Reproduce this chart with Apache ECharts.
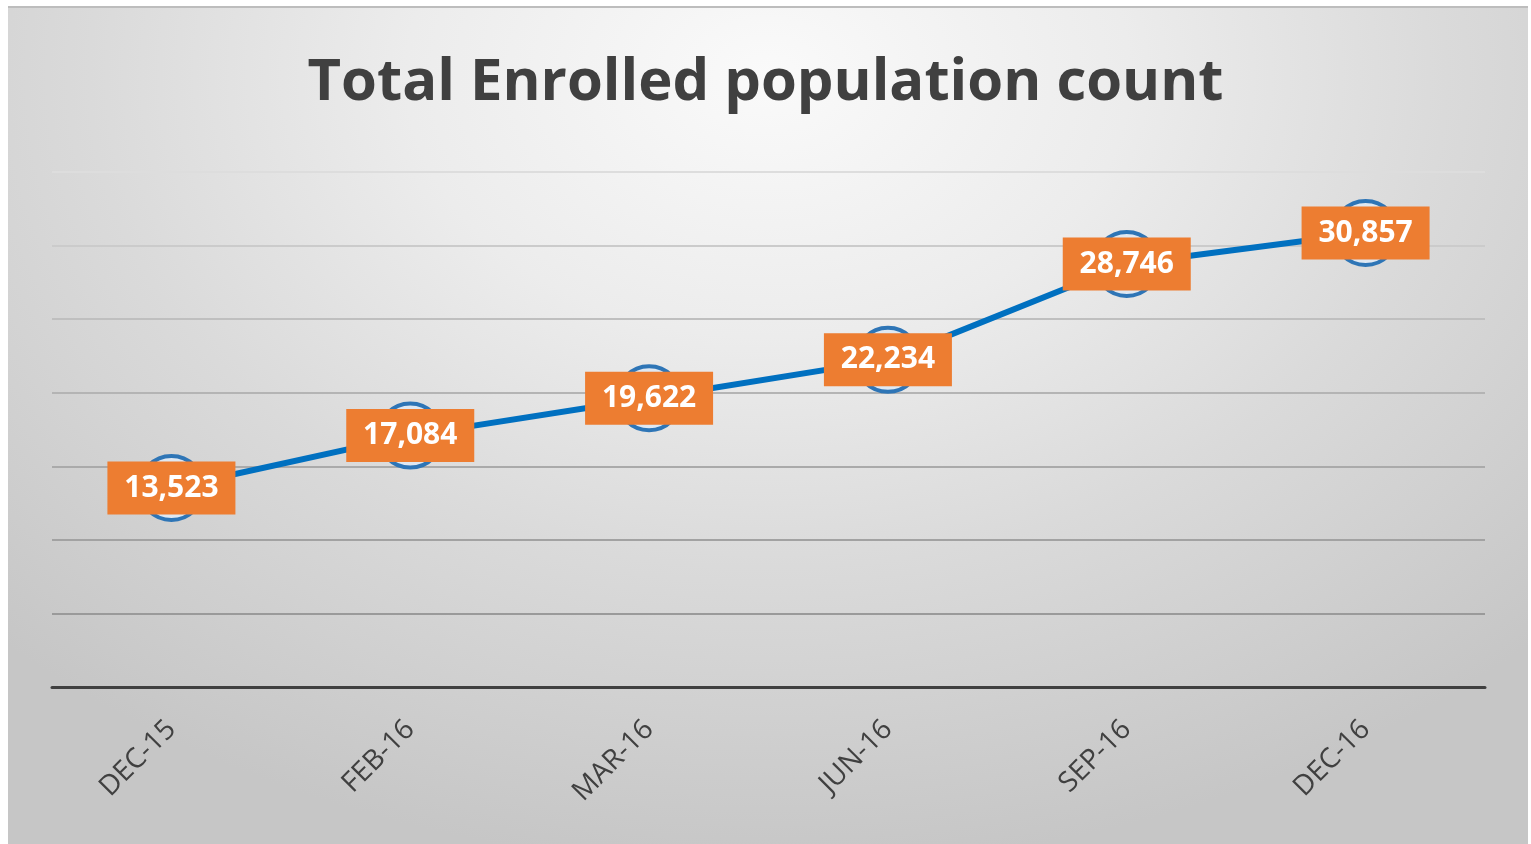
<!DOCTYPE html>
<html>
<head>
<meta charset="utf-8">
<script src="https://cdn.jsdelivr.net/npm/echarts@6/dist/echarts.min.js"></script>
<style>
  html, body { margin: 0; padding: 0; background: #ffffff; }
  #bg { position: absolute; left: 8px; top: 6px; width: 1520px; height: 838px;
        border-top: 2px solid #bdbdbd; box-sizing: border-box;
        background: radial-gradient(ellipse 72% 95% at 50% 8%, #fafafa 0%, #ececec 33%, #dadada 62%, #c6c6c6 100%); }
  #chart { position: absolute; left: 0; top: 0; width: 1531px; height: 844px; }
</style>
</head>
<body>
<div id="bg"></div>
<div id="chart"></div>
<script>
const categories = ['DEC-15', 'FEB-16', 'MAR-16', 'JUN-16', 'SEP-16', 'DEC-16'];
const enrolled = [13523, 17084, 19622, 22234, 28746, 30857];
const titleText = 'Total Enrolled population count';

const chart = echarts.init(document.getElementById('chart'), null, { renderer: 'canvas' });
chart.setOption({
  backgroundColor: 'transparent',
  animation: false,
  title: {
    text: titleText,
    left: 'center',
    top: 49,
    textStyle: { fontFamily: 'Open Sans', fontWeight: 'bold', fontSize: 58, color: '#404040' }
  },
  grid: { left: 52, right: 46, top: 172, bottom: 157, containLabel: false },
  xAxis: {
    type: 'category',
    data: categories,
    boundaryGap: true,
    axisLine: { lineStyle: { color: '#404040', width: 3 } },
    axisTick: { show: false },
    axisLabel: { rotate: 45, margin: 38, color: '#404040', fontFamily: 'Open Sans', fontSize: 28 }
  },
  yAxis: {
    type: 'value',
    min: 0,
    max: 35000,
    interval: 5000,
    axisLine: { show: false },
    axisTick: { show: false },
    axisLabel: { show: false },
    splitLine: { lineStyle: { width: 2, color: ['#404040', '#9a9a9a', '#a2a2a2', '#aaaaaa', '#b4b4b4', '#bfbfbf', '#cbcbcb', '#dddddd'] } }
  },
  series: [{
    type: 'line',
    data: enrolled,
    lineStyle: { color: '#0070C0', width: 6 },
    symbol: 'circle',
    symbolSize: 64,
    itemStyle: { color: '#dfe8f2', borderColor: '#2E75B6', borderWidth: 4 },
    label: {
      show: true,
      position: 'inside',
      formatter: p => p.value.toLocaleString('en-US'),
      backgroundColor: '#ED7D31',
      color: '#ffffff',
      fontFamily: 'Open Sans',
      fontWeight: 'bold',
      fontSize: 30,
      lineHeight: 34,
      padding: [10, 14, 9, 14],
      width: 100,
      align: 'center'
    }
  }]
});
</script>
</body>
</html>
